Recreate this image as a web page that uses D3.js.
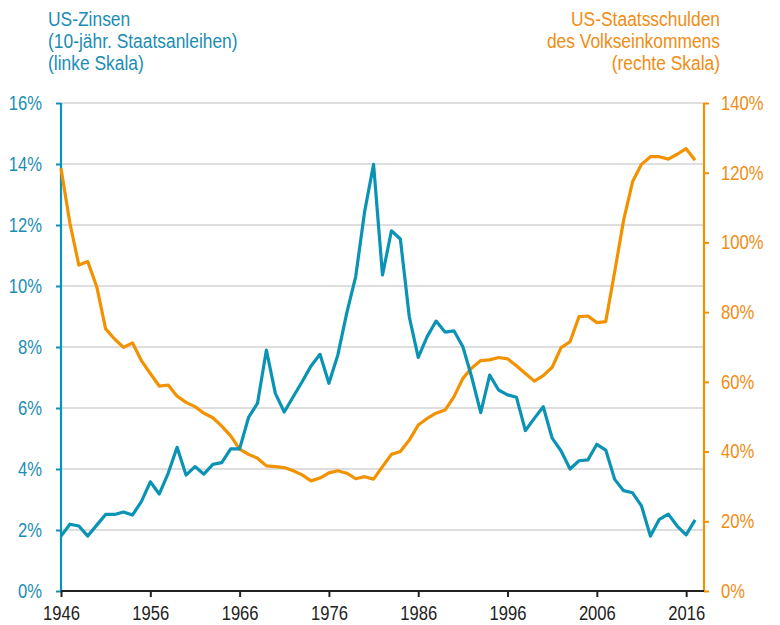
<!DOCTYPE html>
<html>
<head>
<meta charset="utf-8">
<title>US-Zinsen und Staatsschulden</title>
<script src="https://d3js.org/d3.v7.min.js"></script>
<style>
  body { margin: 0; background: #fff; }
  svg text { font-family: "Liberation Sans", Arial, sans-serif; }
</style>
</head>
<body>
<div id="chart"></div>
<script>
// years 1946..2017
var years = d3.range(1946, 2018);

// 10-year treasury yield, % (left scale)
var zinsen = [1.80, 2.19, 2.13, 1.80, 2.16, 2.51, 2.51, 2.59, 2.49, 2.93,
              3.58, 3.18, 3.86, 4.71, 3.80, 4.08, 3.83, 4.15, 4.21, 4.66,
              4.66, 5.69, 6.15, 7.90, 6.48, 5.87, 6.37, 6.86, 7.38, 7.76,
              6.81, 7.74, 9.12, 10.31, 12.44, 13.99, 10.36, 11.81, 11.54, 8.99,
              7.66, 8.34, 8.85, 8.49, 8.53, 8.01, 7.00, 5.85, 7.08, 6.59,
              6.43, 6.35, 5.26, 5.66, 6.04, 5.01, 4.59, 4.00, 4.27, 4.30,
              4.81, 4.62, 3.66, 3.29, 3.22, 2.79, 1.80, 2.35, 2.52, 2.13,
              1.84, 2.33];

// public debt in % of national income (right scale)
var schulden = [121.3, 105.5, 93.5, 94.5, 87.3, 75.2, 72.3, 69.9, 71.2, 66.1,
                62.4, 58.8, 59.1, 55.9, 54.1, 52.9, 51.0, 49.7, 47.3, 44.5,
                40.7, 39.2, 38.1, 35.9, 35.7, 35.4, 34.5, 33.3, 31.6, 32.4,
                33.9, 34.5, 33.8, 32.2, 32.8, 32.1, 35.7, 39.2, 40.0, 43.3,
                47.6, 49.5, 51.0, 51.9, 55.7, 61.0, 64.0, 66.1, 66.3, 67.0,
                66.6, 64.6, 62.4, 60.2, 61.8, 64.2, 69.8, 71.5, 78.7, 78.9,
                77.0, 77.3, 91.6, 106.4, 117.4, 122.4, 124.6, 124.6, 123.9, 125.3,
                126.9, 123.6];

var xTicks = [1946, 1956, 1966, 1976, 1986, 1996, 2006, 2016];
var leftTicks = [0, 2, 4, 6, 8, 10, 12, 14, 16];
var rightTicks = [0, 20, 40, 60, 80, 100, 120, 140];

var blue = "#0b93b6";
var orange = "#f39200";
var blueText = "#1b8db3";
var orangeText = "#f08d12";

var W = 780, H = 625;
var m = {left: 61, right: 704, top: 103, bottom: 591};

var svg = d3.select("#chart").append("svg")
    .attr("width", W)
    .attr("height", H);

var x = d3.scaleLinear().domain([1946, 2018]).range([m.left, m.right]);
var yL = d3.scaleLinear().domain([0, 16]).range([m.bottom, m.top]);
var yR = d3.scaleLinear().domain([0, 140]).range([m.bottom, m.top]);

// narrow the glyphs, since no condensed font is installed
function condense(sel, f) {
    sel.each(function() {
        var w = this.getComputedTextLength();
        d3.select(this).attr("textLength", w * f).attr("lengthAdjust", "spacingAndGlyphs");
    });
}

// gridlines at the left scale
svg.append("g").selectAll("line")
    .data(leftTicks.filter(function(d) { return d > 0; }))
    .enter().append("line")
    .attr("x1", m.left).attr("x2", m.right)
    .attr("y1", function(d) { return yL(d); })
    .attr("y2", function(d) { return yL(d); })
    .attr("stroke", "#bdbdbd")
    .attr("stroke-width", 1.2);

// left axis
var axL = svg.append("g")
    .attr("transform", "translate(" + m.left + ",0)")
    .call(d3.axisLeft(yL).tickValues(leftTicks).tickSize(5).tickPadding(14)
        .tickFormat(function(d) { return d + "%"; }));
axL.select(".domain").attr("stroke", blue).attr("stroke-width", 2.2)
    .attr("d", "M0," + m.bottom + "V" + m.top);
axL.selectAll(".tick line").attr("stroke", blue).attr("stroke-width", 2);
axL.selectAll(".tick text").attr("fill", blueText).attr("font-size", 20).attr("font-family", null).call(condense, 0.83);

// right axis
var axR = svg.append("g")
    .attr("transform", "translate(" + m.right + ",0)")
    .call(d3.axisRight(yR).tickValues(rightTicks).tickSize(5).tickPadding(12)
        .tickFormat(function(d) { return d + "%"; }));
axR.select(".domain").attr("stroke", orange).attr("stroke-width", 2.2)
    .attr("d", "M0," + m.bottom + "V" + m.top);
axR.selectAll(".tick line").attr("stroke", orange).attr("stroke-width", 2);
axR.selectAll(".tick text").attr("fill", orangeText).attr("font-size", 20).attr("font-family", null).call(condense, 0.83);

// x axis
var axX = svg.append("g")
    .attr("transform", "translate(0," + m.bottom + ")")
    .call(d3.axisBottom(x).tickValues(xTicks).tickSize(6).tickPadding(9)
        .tickFormat(d3.format("d")));
axX.select(".domain").attr("stroke", "#222").attr("stroke-width", 2)
    .attr("d", "M" + m.left + ",0H" + m.right);
axX.selectAll(".tick line").attr("stroke", "#222").attr("stroke-width", 2);
axX.selectAll(".tick text").attr("fill", "#222").attr("font-size", 20).attr("font-family", null).call(condense, 0.83);

// lines
var lineR = d3.line()
    .x(function(d, i) { return x(years[i]); })
    .y(function(d) { return yR(d); });
var lineL = d3.line()
    .x(function(d, i) { return x(years[i]); })
    .y(function(d) { return yL(d); });

svg.append("path")
    .attr("d", lineR(schulden))
    .attr("fill", "none")
    .attr("stroke", orange)
    .attr("stroke-width", 3.2)
    .attr("stroke-linejoin", "round");

svg.append("path")
    .attr("d", lineL(zinsen))
    .attr("fill", "none")
    .attr("stroke", blue)
    .attr("stroke-width", 3.2)
    .attr("stroke-linejoin", "round");

// titles
var tL = ["US-Zinsen", "(10-jähr. Staatsanleihen)", "(linke Skala)"];
var tR = ["US-Staatsschulden", "des Volkseinkommens", "(rechte Skala)"];

svg.append("g").selectAll("text")
    .data(tL).enter().append("text")
    .attr("x", 48)
    .attr("y", function(d, i) { return 26 + i * 22; })
    .attr("fill", blueText)
    .attr("font-size", 20)
    .text(function(d) { return d; })
    .call(condense, 0.87);

svg.append("g").selectAll("text")
    .data(tR).enter().append("text")
    .attr("x", 720)
    .attr("y", function(d, i) { return 26 + i * 22; })
    .attr("text-anchor", "end")
    .attr("fill", orangeText)
    .attr("font-size", 20)
    .text(function(d) { return d; })
    .call(condense, 0.87);
</script>
</body>
</html>
